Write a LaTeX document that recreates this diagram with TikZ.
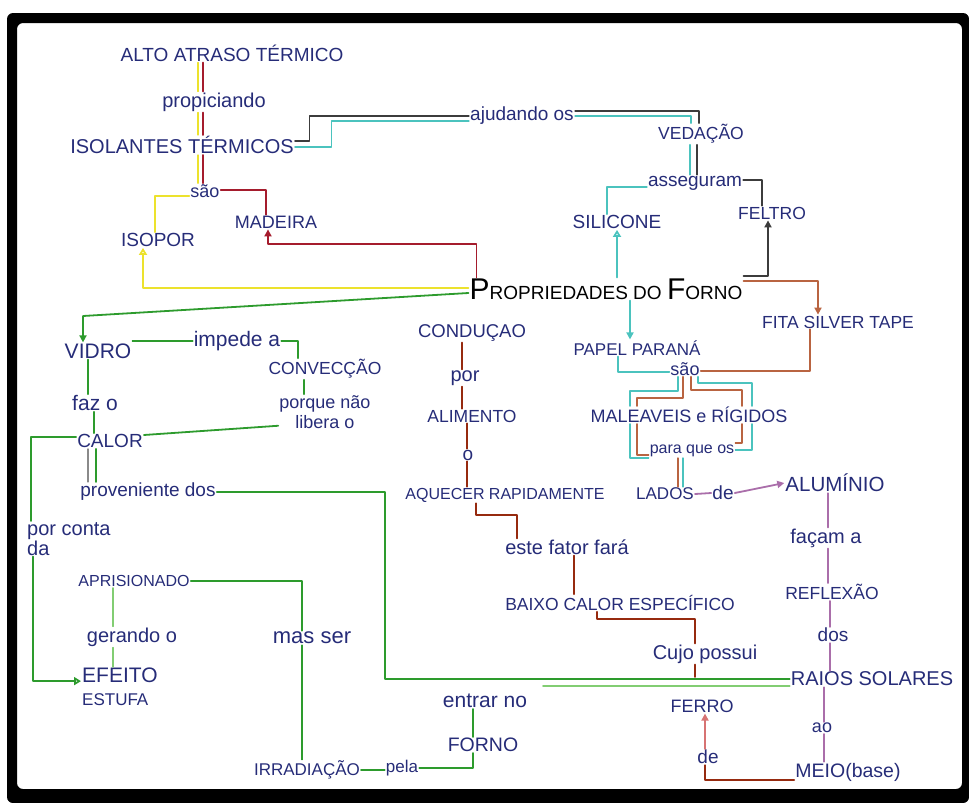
\documentclass[tikz,border=0pt]{standalone}
\usepackage{fontspec}
\setmainfont{Liberation Sans}
\usetikzlibrary{arrows.meta,calc}
\definecolor{ink}{RGB}{38,44,120}
\definecolor{cRed}{RGB}{165,28,45}
\definecolor{cYel}{RGB}{236,226,45}
\definecolor{cGrn}{RGB}{45,155,45}
\definecolor{cLgrn}{RGB}{130,205,115}
\definecolor{cCyan}{RGB}{75,195,190}
\definecolor{cGray}{RGB}{60,60,60}
\definecolor{cBrown}{RGB}{185,100,65}
\definecolor{cRust}{RGB}{150,42,15}
\definecolor{cPurp}{RGB}{170,110,170}
\definecolor{cPink}{RGB}{215,115,115}
\begin{document}
\begin{tikzpicture}[x=1pt,y=-1pt,
  lb/.style={text=ink, inner sep=1pt, font=\fontsize{#1}{#1}\selectfont},
  lb/.default=18,
  ln/.style={line width=1.8pt, line cap=round, line join=round},
  lite/.style={line width=1.2pt, line cap=round, line join=round},
  tipS/.style={-{Triangle[length=7pt,width=7pt]}},
  tipO/.style={-{Triangle[open,length=7pt,width=8pt]}},
]
\useasboundingbox (0,0) rectangle (969,803);
% frame
\fill[black, even odd rule, rounded corners=6pt] (7,13) rectangle (969,803) (17,23) rectangle (962,789);

% column and row helpers for the hand-drawn connectors
\foreach \c in {31,33,88,94,96,113,198,203,302,304,385,462,467,473,476,517,574,597,617,618,630,637,678,683,690,691,695,697,698,705,742,752,768,810,818,824,828,830}
  {\coordinate (c\c) at (\c,0);}
\coordinate (r244) at (0,244);

% ---- concepts ----
\node[lb=19] (alto) at (232,53) {ALTO ATRASO TÉRMICO};
\node[lb=20] (propic) at (214,102) {propiciando};
\node[lb=20] (isol) at (182,145) {ISOLANTES TÉRMICOS};
\node[lb=18] (sao1) at (205,191) {são};
\node[lb=19] (isopor) at (158,240) {ISOPOR};
\node[lb=18] (madeira) at (276,222) {MADEIRA};
\node[text=black, inner sep=1pt, font=\fontsize{19}{19}\selectfont] (prop) at (606,289)
  {{\fontsize{30}{30}\selectfont P}ROPRIEDADES DO {\fontsize{30}{30}\selectfont F}ORNO};
\node[lb=19] (ajud) at (522,116) {ajudando os};
\node[lb=17.5] (vedacao) at (701,134) {VEDAÇÃO};
\node[lb=19] (asseg) at (695,183) {asseguram};
\node[lb=19] (silicone) at (617,222) {SILICONE};
\node[lb=17.5] (feltro) at (772,213) {FELTRO};
\node[lb=17.5] (fita) at (838,322) {FITA SILVER TAPE};
\node[lb=17] (papel) at (637,348) {PAPEL PARANÁ};
\node[lb=18] (sao2) at (685,369) {são};
\node[lb=18] (malea) at (689,415) {MALEAVEIS e RÍGIDOS};
\node[lb=16] (paraque) at (692,451) {para que os};
\node[lb=17] (lados) at (665,494) {LADOS};
\node[lb=19] (de1) at (723,493) {de};
\node[lb=20.5] (aluminio) at (835,483) {ALUMÍNIO};
\node[lb=20] (facam) at (826,538) {façam a};
\node[lb=17.5] (reflexao) at (832,592) {REFLEXÃO};
\node[lb=19] (dos) at (833,635) {dos};
\node[lb=20] (raios) at (872,679) {RAIOS SOLARES};
\node[lb=18] (ao) at (822,728) {ao};
\node[lb=19.5] (meio) at (848,772) {MEIO(base)};
\node[lb=18] (ferro) at (702,706) {FERRO};
\node[lb=19] (de2) at (708,757) {de};
\node[lb=20] (cujo) at (705,654) {Cujo possui};
\node[lb=17.5] (baixo) at (620,603) {BAIXO CALOR ESPECÍFICO};
\node[lb=20] (fator) at (567,547) {este fator fará};
\node[lb=16] (aquecer) at (505,495) {AQUECER RAPIDAMENTE};
\node[lb=19] (o1) at (468,455) {o};
\node[lb=17.5] (alimento) at (472,416) {ALIMENTO};
\node[lb=20] (por1) at (465,378) {por};
\node[lb=18.5] (conducao) at (472,333) {CONDUÇAO};
\node[lb=21] (vidro) at (98,351) {VIDRO};
\node[lb=21] (impede) at (237,341) {impede a};
\node[lb=17.5] (conveccao) at (325,369) {CONVECÇÃO};
\node[lb=18, font=\fontsize{18}{20}\selectfont, align=center] (porque) at (325,412) {porque não\\libera o};
\node[lb=21] (fazo) at (95,403) {faz o};
\node[lb=19] (calor) at (110,441) {CALOR};
\node[lb=19] (proven) at (148,492) {proveniente dos};
\node[lb=20, font=\fontsize{20}{20}\selectfont, align=left, anchor=north west] (porconta) at (26,521) {por conta\\da};
\node[lb=16] (aprision) at (134,581) {APRISIONADO};
\node[lb=20] (gerando) at (132,637) {gerando o};
\node[lb=17, font=\fontsize{17}{23}\selectfont, align=left, anchor=north west] (efeito) at (81,667)
  {{\fontsize{21}{23}\selectfont EFEITO}\\ESTUFA};
\node[lb=22] (masser) at (312,638) {mas ser};
\node[lb=17] (irrad) at (307,770) {IRRADIAÇÃO};
\node[lb=17] (pela) at (402,768) {pela};
\node[lb=19.5] (forno) at (483,745) {FORNO};
\node[lb=21] (entrar) at (485,701) {entrar no};

% ---- insulation branch ----
\draw[ln,cRed] (alto.south -| c203) -- (propic.north -| c203);
\draw[ln,cRed] (propic.south -| c203) -- (isol.north -| c203);
\draw[ln,cRed] (isol.south -| c203) -- (sao1.north -| c203);
\draw[lite,cYel] (alto.south -| c198) -- (propic.north -| c198);
\draw[lite,cYel] (propic.south -| c198) -- (isol.north -| c198);
\draw[lite,cYel] (isol.south -| c198) -- (sao1.north -| c198);
\draw[ln,cYel] ([yshift=-5pt]sao1.west) -| ([xshift=-3pt]isopor.north);
\draw[ln,cRed] ([yshift=1pt]sao1.east) -| ([xshift=-10pt]madeira.north);
\coordinate (pnw) at ([xshift=8pt]prop.north west);
\draw[ln,cRed,tipS] (pnw) -- (pnw |- r244) -| ([xshift=-8pt]madeira.south);
\draw[ln,cYel,tipO] ([yshift=1pt]prop.west) -| ([xshift=-15pt]isopor.south);

% ---- sealing branch ----
\draw[lite,cGray] ([yshift=4pt]isol.east) -- ++(15,0) |- (ajud.west);
\draw[lite,cCyan] ([yshift=-2pt]isol.east) -- ++(37,0) |- ([yshift=-5pt]ajud.west);
\draw[lite,cGray] ([yshift=5pt]ajud.east) -| ([xshift=-2pt]vedacao.north);
\draw[lite,cCyan] (ajud.east) -| ([xshift=-10pt]vedacao.north);
\draw[ln,cGray] (vedacao.south -| c697) -- (asseg.north -| c697);
\draw[ln,cCyan] (vedacao.south -| c690) -- (asseg.north -| c690);
\draw[ln,cCyan] ([yshift=-4pt]asseg.west) -| ([xshift=-10pt]silicone.north);
\draw[ln,cGray] ([yshift=3pt]asseg.east) -| ([xshift=-10pt]feltro.north);
\draw[ln,cCyan,tipO] (prop.north -| c617) -- (silicone.south -| c617);
\draw[ln,cGray,tipS] ([yshift=13pt]prop.east) -| (feltro.south -| c768);
\draw[ln,cBrown,tipS] ([yshift=8pt]prop.east) -| (fita.north -| c818);
\draw[ln,cCyan,tipS] (prop.south -| c630) -- (papel.north -| c630);

% ---- paper and tape ----
\draw[ln,cCyan] (papel.south -| c618) |- ([yshift=-3pt]sao2.west);
\draw[ln,cBrown] (fita.south -| c810) |- ([yshift=-2pt]sao2.east);
\draw[ln,cCyan] (sao2.south -| c678) -- ++(0,14) -| (malea.north -| c630);
\draw[ln,cBrown] (sao2.south -| c683) -- ++(0,21) -| (malea.north -| c637);
\draw[ln,cCyan] (sao2.south -| c698) -- ++(0,6) -| (malea.north -| c752);
\draw[ln,cBrown] (sao2.south -| c691) -- ++(0,13) -| (malea.north -| c742);
\draw[ln,cCyan] (malea.south -| c630) |- ([yshift=-7pt]paraque.west);
\draw[ln,cBrown] (malea.south -| c637) |- ([yshift=-4pt]paraque.west);
\draw[ln,cCyan] (malea.south -| c752) |- ([yshift=1pt]paraque.east);
\draw[ln,cBrown] (malea.south -| c742) |- ([yshift=8pt]paraque.east);
\draw[ln,cBrown] (paraque.south -| c678) -- (lados.north -| c678);
\draw[ln,cCyan] (paraque.south -| c683) -- (lados.north -| c683);

% ---- aluminium ----
\draw[ln,cPurp] (lados.east) -- (de1.west);
\draw[ln,cPurp,tipS] (de1.east) -- (aluminio.west);
\draw[ln,cPurp] (aluminio.south -| c828) -- (facam.north -| c828);
\draw[ln,cPurp] (facam.south -| c828) -- (reflexao.north -| c828);
\draw[ln,cPurp] (reflexao.south -| c830) -- (dos.north -| c830);
\draw[ln,cPurp] (dos.south -| c830) -- (raios.north -| c830);
\draw[ln,cPurp] (raios.south -| c824) -- (ao.north -| c824);
\draw[ln,cPurp] (ao.south -| c824) -- (meio.north -| c824);

% ---- conduction and iron ----
\draw[ln,cRust] (conducao.south -| c462) -- (por1.north -| c462);
\draw[ln,cRust] (por1.south -| c462) -- (alimento.north -| c462);
\draw[ln,cRust] (alimento.south -| c467) -- (o1.north -| c467);
\draw[ln,cRust] (o1.south -| c467) -- (aquecer.north -| c467);
\draw[ln,cRust] (aquecer.south -| c476) -- ++(0,12) -| (fator.north -| c517);
\draw[ln,cRust] (fator.south -| c574) -- (baixo.north -| c574);
\draw[ln,cRust] (baixo.south -| c597) -- ++(0,7) -| (cujo.north -| c695);
\coordinate (cf) at (695,677);
\draw[ln,cRust] (cujo.south -| c695) -- (cf);
\draw[ln,cPink,tipS] (de2.north -| c705) -- (ferro.south -| c705);
\draw[ln,cRust] (de2.south -| c705) |- ([yshift=-8pt]meio.west);

% ---- glass and greenhouse effect ----
\coordinate (gb) at (83,316);
\draw[ln,cGrn,tipS] ([yshift=-4pt]prop.west) -- (gb) -- (gb |- vidro.north);
\draw[ln,cGrn] (impede.west -| vidro.east) -- (impede.west);
\draw[ln,cGrn] (impede.east) -| ([xshift=-27pt]conveccao.north);
\draw[ln,cGrn] (conveccao.south -| c304) -- (porque.north -| c304);
\draw[ln,cGrn] (vidro.south -| c88) -- (fazo.north -| c88);
\draw[ln,cGrn] (fazo.south -| c94) -- (calor.north -| c94);
\draw[ln,cGrn] ([yshift=6pt]calor.east) -- ([yshift=4pt]porque.south west);
\draw[ln,cGrn] ([yshift=4pt]calor.west) -| (porconta.north -| c31);
\draw[ln,cGrn,tipO] (porconta.south -| c33) |- ([yshift=6pt]efeito.west);
\draw[ln,cGrn] (calor.south -| c96) -- (proven.north -| c96);
\draw[lite,cGray!60] (calor.south -| c88) -- (proven.north -| c88);
\draw[ln,cGrn] (proven.east) -| (c385 |- raios.west) -- (raios.west);
\coordinate (g2) at (543,686);
\draw[ln,cLgrn] (g2) -- ([yshift=-7pt]raios.west);
\draw[ln,cGrn] (aprision.east) -| ([xshift=-10pt]masser.north);
\draw[lite,cLgrn] (aprision.south -| c113) -- (gerando.north -| c113);
\draw[lite,cLgrn] (gerando.south -| c113) -- (efeito.north -| c113);
\draw[ln,cGrn] (masser.south -| c302) -- (irrad.north -| c302);
\draw[ln,cGrn] (irrad.east) -- (irrad.east -| pela.west);
\draw[ln,cGrn] (pela.east) -| (forno.south -| c473);
\draw[ln,cGrn] (forno.north -| c473) -- (entrar.south -| c473);
\end{tikzpicture}
\end{document}
